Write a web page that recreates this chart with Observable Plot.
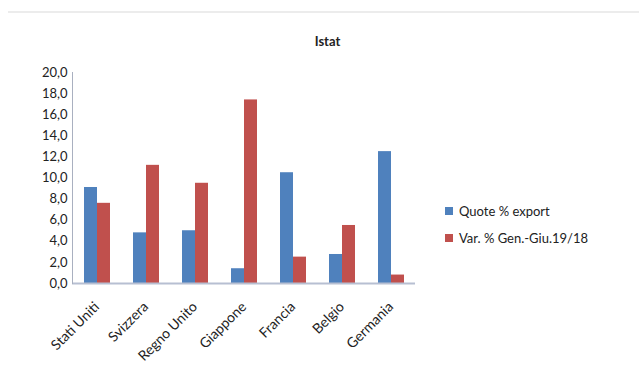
<!DOCTYPE html>
<html>
<head>
<meta charset="utf-8">
<script src="https://cdn.jsdelivr.net/npm/d3@7"></script>
<script src="https://cdn.jsdelivr.net/npm/@observablehq/plot@0.6"></script>
<style>
  html, body { margin: 0; padding: 0; background: #fff; }
  #wrap { position: relative; width: 639px; height: 382px; overflow: hidden; font-family: Lato, "DejaVu Sans", sans-serif; }
  #topline { position: absolute; left: 8px; right: 0; top: 11px; border-top: 2px solid #ececec; }
  #title { position: absolute; left: 0; width: 655px; top: 33px; text-align: center; font-weight: bold; font-size: 13px; color: #222; }
  #legend { position: absolute; left: 445px; top: 197px; font-size: 13px; color: #222; }
  .item { display: flex; align-items: center; height: 27px; }
  .sw { width: 8px; height: 8px; margin-right: 6px; }
  #chart { position: absolute; left: 0; top: 0; }
</style>
</head>
<body>
<div id="wrap">
  <div id="topline"></div>
  <div id="title">Istat</div>
  <div id="chart"></div>
  <div id="legend"></div>
</div>
<script>
const countries = ["Stati Uniti", "Svizzera", "Regno Unito", "Giappone", "Francia", "Belgio", "Germania"];
const seriesNames = ["Quote % export", "Var. % Gen.-Giu.19/18"];
const quoteExport = [9.1, 4.8, 5.0, 1.4, 10.5, 2.75, 12.5];
const varGenGiu = [7.6, 11.2, 9.5, 17.4, 2.5, 5.5, 0.8];
const yTicks = [0, 2, 4, 6, 8, 10, 12, 14, 16, 18, 20];
const colors = ["#4F81BD", "#C0504D"];

const data = countries.flatMap((c, i) => [
  {country: c, series: seriesNames[0], value: quoteExport[i]},
  {country: c, series: seriesNames[1], value: varGenGiu[i]}
]);

const chart = Plot.plot({
  width: 639,
  height: 382,
  marginLeft: 72,
  marginRight: 224,
  marginTop: 72,
  marginBottom: 99,
  style: {fontFamily: "Lato, 'DejaVu Sans', sans-serif", fontSize: "13px", color: "#222", background: "transparent"},
  fx: {domain: countries, padding: 0, label: null},
  x: {domain: seriesNames, paddingInner: 0, paddingOuter: 0.815, axis: null},
  y: {domain: [0, 20], label: null},
  color: {domain: seriesNames, range: colors},
  marks: [
    Plot.barY(data, {fx: "country", x: "series", y: "value", fill: "series"}),
    Plot.ruleY([0], {stroke: "#b7bfd2", strokeWidth: 2}),
    Plot.frame({anchor: "left", fx: () => countries[0], stroke: "#a9b0c0", strokeDasharray: "2,1"}),
    Plot.axisY({ticks: yTicks, tickSize: 0, tickPadding: 5, tickFormat: d => d.toFixed(1).replace(".", ","), label: null, fill: "#222"}),
    Plot.axisFx({anchor: "bottom", tickSize: 0, tickPadding: 21, tickRotate: -45, label: null, fill: "#222", fontSize: 14})
  ]
});
document.getElementById("chart").appendChild(chart);

const legend = document.getElementById("legend");
seriesNames.forEach((s, i) => {
  const item = document.createElement("div");
  item.className = "item";
  const sw = document.createElement("span");
  sw.className = "sw";
  sw.style.background = colors[i];
  const t = document.createElement("span");
  t.textContent = s;
  item.appendChild(sw);
  item.appendChild(t);
  legend.appendChild(item);
});
</script>
</body>
</html>
